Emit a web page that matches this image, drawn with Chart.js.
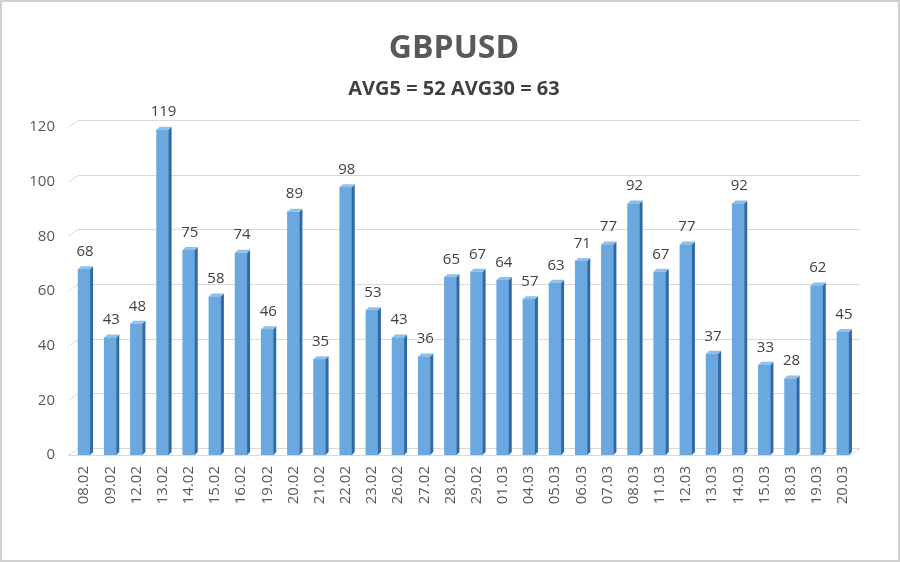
<!DOCTYPE html>
<html>
<head>
<meta charset="utf-8">
<script src="https://cdn.jsdelivr.net/npm/chart.js@4.4.1/dist/chart.umd.min.js"></script>
<style>
  html, body { margin: 0; padding: 0; background: #fff; }
  #wrap { width: 900px; height: 562px; position: relative; }
</style>
</head>
<body>
<div id="wrap"><canvas id="chart" width="900" height="562"></canvas></div>
<script>
const labels = ['08.02', '09.02', '12.02', '13.02', '14.02', '15.02', '16.02', '19.02', '20.02', '21.02',
  '22.02', '23.02', '26.02', '27.02', '28.02', '29.02', '01.03', '04.03', '05.03', '06.03',
  '07.03', '08.03', '11.03', '12.03', '13.03', '14.03', '15.03', '18.03', '19.03', '20.03'];
const values = [68, 43, 48, 119, 75, 58, 74, 46, 89, 35,
  98, 53, 43, 36, 65, 67, 64, 57, 63, 71,
  77, 92, 67, 77, 37, 92, 33, 28, 62, 45];
const yMin = 0, yMax = 120, yStep = 20;
const titleText = 'GBPUSD';
const subText = 'AVG5 = 52 AVG30 = 63';

const FONT = '"Open Sans", "Noto Sans", sans-serif';
const D = 3; // bar depth

// back-wall gridlines with perspective stub, floor, 3d bar faces, labels, frame
const wallPlugin = {
  id: 'wall',
  beforeDatasetsDraw(chart) {
    const { ctx, scales: { y } } = chart;
    const bars = chart.getDatasetMeta(0).data;
    const n = bars.length;
    const x0 = bars[0].x, x1 = bars[n - 1].x;
    const band = (x1 - x0) / (n - 1);
    const left = x0 - band / 2;
    const right = x1 + band / 2;
    ctx.save();
    ctx.strokeStyle = '#d9d9d9';
    ctx.lineWidth = 1;
    y.ticks.forEach(t => {
      const yy = Math.round(y.getPixelForValue(t.value)) + 0.5;
      ctx.beginPath();
      ctx.moveTo(left - 3, yy);
      ctx.lineTo(left + 7, yy - 7);
      ctx.lineTo(right + 4, yy - 7);
      if (t.value === yMin) {
        ctx.moveTo(left - 3, yy);
        ctx.lineTo(right - 6, yy);
        ctx.lineTo(right + 4, yy - 7);
      }
      ctx.stroke();
    });
    ctx.restore();
  },
  afterDatasetsDraw(chart) {
    const { ctx } = chart;
    const meta = chart.getDatasetMeta(0);
    ctx.save();
    meta.data.forEach((bar, i) => {
      const p = bar.getProps(['x', 'y', 'base', 'width'], true);
      const l = p.x - p.width / 2, r = p.x + p.width / 2;
      // side face
      ctx.fillStyle = '#2f6aa6';
      ctx.beginPath();
      ctx.moveTo(r, p.y);
      ctx.lineTo(r + D, p.y - D);
      ctx.lineTo(r + D, p.base - D);
      ctx.lineTo(r, p.base);
      ctx.closePath();
      ctx.fill();
      // top face
      ctx.fillStyle = '#8fc0ec';
      ctx.beginPath();
      ctx.moveTo(l, p.y);
      ctx.lineTo(l + D, p.y - D);
      ctx.lineTo(r + D, p.y - D);
      ctx.lineTo(r, p.y);
      ctx.closePath();
      ctx.fill();
      // value label
      ctx.fillStyle = '#404040';
      ctx.font = '15px ' + FONT;
      ctx.textAlign = 'center';
      ctx.textBaseline = 'bottom';
      ctx.fillText(values[i], p.x + 1, p.y - 10);
    });
    ctx.restore();
  },
  afterDraw(chart) {
    const { ctx } = chart;
    ctx.save();
    ctx.fillStyle = '#595959';
    ctx.textAlign = 'center';
    ctx.textBaseline = 'middle';
    ctx.font = 'bold 32px ' + FONT;
    ctx.fillText(titleText, 454, 49);
    ctx.font = 'bold 20px ' + FONT;
    ctx.fillStyle = '#404040';
    ctx.fillText(subText, 454, 89);
    ctx.strokeStyle = '#d0d0d0';
    ctx.lineWidth = 2;
    ctx.strokeRect(1, 1, 898, 560);
    ctx.restore();
  }
};

const ctx = document.getElementById('chart').getContext('2d');
new Chart(ctx, {
  type: 'bar',
  data: {
    labels: labels,
    datasets: [{
      data: values,
      barThickness: 12,
      borderWidth: 0,
      backgroundColor: c => {
        const el = c.element;
        if (!el || el.x === undefined) return '#6aa8df';
        const g = c.chart.ctx.createLinearGradient(el.x - 6, 0, el.x + 6, 0);
        g.addColorStop(0, '#80b8e8');
        g.addColorStop(0.5, '#6aa8df');
        g.addColorStop(1, '#4e8fcf');
        return g;
      }
    }]
  },
  options: {
    responsive: false,
    animation: false,
    layout: { padding: { top: 127, right: 44, bottom: 0, left: 0 } },
    plugins: { legend: { display: false }, tooltip: { enabled: false }, title: { display: false } },
    scales: {
      x: {
        grid: { display: false, drawTicks: false },
        border: { display: false },
        ticks: { color: '#595959', font: { family: FONT, size: 15 }, minRotation: 90, maxRotation: 90, padding: 11 },
        afterFit: s => { s.height = 107; }
      },
      y: {
        min: yMin, max: yMax,
        grid: { display: false, drawTicks: false },
        border: { display: false },
        ticks: { stepSize: yStep, color: '#595959', font: { family: FONT, size: 15 }, padding: 16 },
        afterFit: s => { s.width = 71; }
      }
    }
  },
  plugins: [wallPlugin]
});
</script>
</body>
</html>
